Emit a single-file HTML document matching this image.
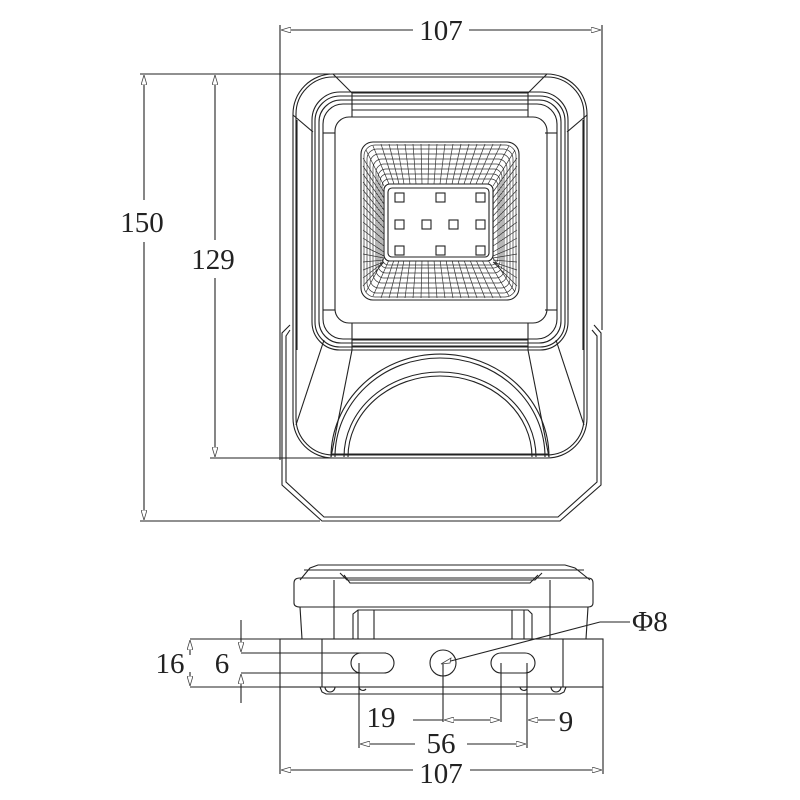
<!DOCTYPE html>
<html><head><meta charset="utf-8"><style>
html,body{margin:0;padding:0;background:#fff;}
svg{display:block;}
text{font-family:"Liberation Serif",serif;font-size:29px;fill:#222;}
</style></head><body>
<svg width="800" height="800" viewBox="0 0 800 800" xmlns="http://www.w3.org/2000/svg">
<defs>
<marker id="a" viewBox="0 0 10 6" refX="10" refY="3" markerWidth="10" markerHeight="6" orient="auto-start-reverse" markerUnits="userSpaceOnUse"><path d="M0,0 L10,3 L0,6 Z" fill="#fff" stroke="#444" stroke-width="0.8"/></marker>
</defs>
<g fill="none" stroke="#222" stroke-width="1.1">
<!-- top dims -->
<line x1="280" y1="25" x2="280" y2="460"/>
<line x1="602" y1="25" x2="602" y2="330"/>
<line x1="281" y1="30" x2="415" y2="30" marker-start="url(#a)"/>
<line x1="466" y1="30" x2="601" y2="30" marker-end="url(#a)"/>
<line x1="140" y1="74" x2="330" y2="74"/>
<line x1="140" y1="521" x2="320" y2="521"/>
<line x1="210" y1="458" x2="332" y2="458"/>
<line x1="144" y1="75" x2="144" y2="200" marker-start="url(#a)"/>
<line x1="144" y1="242" x2="144" y2="520" marker-end="url(#a)"/>
<line x1="215" y1="75" x2="215" y2="240" marker-start="url(#a)"/>
<line x1="215" y1="278" x2="215" y2="457" marker-end="url(#a)"/>

<!-- base lip -->
<path d="M290,325 L282,333 L282,485 L322,521 L560,521 L601,485 L601,333 L594,325"/>
<path d="M290,330 L286,336 L286,482 L324,517 L558,517 L597,482 L597,336 L592,330"/>
<!-- housing -->
<rect x="293" y="74" width="294" height="384" rx="40"/>
<rect x="296" y="77" width="288" height="378" rx="37"/>
<line x1="293" y1="115" x2="313" y2="132"/><line x1="587" y1="115" x2="567" y2="132"/>
<line x1="333" y1="74" x2="352" y2="93"/><line x1="547" y1="74" x2="528" y2="93"/>
<line x1="297" y1="120" x2="297" y2="350"/><line x1="583" y1="120" x2="583" y2="350"/>
<rect x="312" y="92" width="256" height="258" rx="28"/>
<rect x="315" y="96" width="250" height="251" rx="25"/>
<rect x="319" y="100" width="242" height="243" rx="22"/>
<rect x="323" y="104" width="234" height="235" rx="20"/>
<rect x="335" y="117" width="212" height="206" rx="14"/>
<line x1="352" y1="93" x2="528" y2="93"/><line x1="352" y1="93" x2="352" y2="117"/><line x1="528" y1="93" x2="528" y2="117"/>
<line x1="352" y1="110" x2="528" y2="110"/>
<line x1="352" y1="323" x2="352" y2="350"/><line x1="528" y1="323" x2="528" y2="350"/>
<line x1="352" y1="340" x2="528" y2="340"/><line x1="352" y1="346" x2="528" y2="346"/>
<line x1="312" y1="133" x2="312" y2="310"/><line x1="568" y1="133" x2="568" y2="310"/>
<line x1="335" y1="133" x2="323" y2="133"/><line x1="335" y1="310" x2="323" y2="310"/>
<line x1="545" y1="133" x2="557" y2="133"/><line x1="545" y1="310" x2="557" y2="310"/>
<!-- lower body lines -->
<line x1="324" y1="340" x2="296" y2="425"/><line x1="556" y1="340" x2="584" y2="425"/>
<line x1="352" y1="350" x2="331" y2="457"/><line x1="528" y1="350" x2="549" y2="457"/>
<path d="M331,457 A109,103 0 0 1 549,457"/>
<path d="M335,457 A105,99 0 0 1 545,457"/>
<path d="M344,457 A96,85 0 0 1 536,457"/>
<path d="M348,457 A92,81 0 0 1 532,457"/>
<line x1="331" y1="454" x2="549" y2="454"/>
<!-- LED -->
<rect x="361" y="142" width="158" height="158" rx="12"/>
<rect x="384" y="184" width="109" height="77" rx="6"/>
<rect x="388" y="188" width="101" height="69" rx="4"/>
</g>
<g stroke="#333" stroke-width="0.7" fill="none">
<path d="
M366,150 L384,186 M373,146 L389,184 M381,144 L394,184 M389,144 L399,184 M397,144 L404,184 M405,144 L410,184 M413,144 L416,184 M421,144 L422,184 M429,144 L428,184 M437,144 L434,184 M445,144 L440,184 M453,144 L446,184 M461,144 L452,184 M469,144 L458,184 M477,144 L464,184 M485,144 L470,184 M493,144 L476,184 M501,144 L482,184 M509,146 L488,184 M515,150 L493,186
M366,292 L384,258 M373,296 L389,260 M381,298 L394,260 M389,298 L399,260 M397,298 L404,260 M405,298 L410,260 M413,298 L416,260 M421,298 L422,260 M429,298 L428,260 M437,298 L434,260 M445,298 L440,260 M453,298 L446,260 M461,298 L452,260 M469,298 L458,260 M477,298 L464,260 M485,298 L470,260 M493,298 L476,260 M501,298 L482,260 M509,296 L488,260 M515,292 L493,258
M363,158 L384,192 M363,166 L384,198 M363,174 L384,204 M363,182 L384,210 M363,190 L384,216 M363,198 L384,222 M363,206 L384,228 M363,214 L384,234 M363,222 L384,240 M363,230 L384,246 M363,238 L384,252 M363,246 L384,256 M363,254 L384,258 M363,262 L384,260 M363,270 L384,262 M363,278 L384,262 M363,286 L384,262
M517,158 L493,192 M517,166 L493,198 M517,174 L493,204 M517,182 L493,210 M517,190 L493,216 M517,198 L493,222 M517,206 L493,228 M517,214 L493,234 M517,222 L493,240 M517,230 L493,246 M517,238 L493,252 M517,246 L493,256 M517,254 L493,258 M517,262 L493,260 M517,270 L493,262 M517,278 L493,262 M517,286 L493,262"/>
<rect x="364" y="145" width="152" height="152" rx="11"/>
<rect x="367" y="149" width="146" height="144" rx="10"/>
<rect x="370" y="154" width="140" height="134" rx="9"/>
<rect x="373" y="159" width="134" height="124" rx="9"/>
<rect x="376" y="164" width="128" height="114" rx="8"/>
<rect x="378" y="169" width="124" height="104" rx="8"/>
<rect x="380" y="174" width="120" height="94" rx="7"/>
<rect x="382" y="179" width="116" height="86" rx="7"/>
</g>
<g fill="#fff" stroke="#222" stroke-width="1.1">
<rect x="384" y="184" width="109" height="77" rx="6"/>
<rect x="388" y="188" width="101" height="69" rx="4"/>
<rect x="395" y="193" width="9" height="9"/><rect x="436" y="193" width="9" height="9"/><rect x="476" y="193" width="9" height="9"/>
<rect x="395" y="220" width="9" height="9"/><rect x="422" y="220" width="9" height="9"/><rect x="449" y="220" width="9" height="9"/><rect x="476" y="220" width="9" height="9"/>
<rect x="395" y="246" width="9" height="9"/><rect x="436" y="246" width="9" height="9"/><rect x="476" y="246" width="9" height="9"/>
</g>
<g fill="#fff">
<rect x="413" y="14" width="56" height="32"/>
<rect x="118" y="202" width="50" height="38"/>
<rect x="189" y="240" width="50" height="38"/>
</g>
<text x="441" y="40" text-anchor="middle">107</text>
<text x="142" y="232" text-anchor="middle">150</text>
<text x="213" y="269" text-anchor="middle">129</text>

<!-- bottom view -->
<g fill="none" stroke="#222" stroke-width="1.1">
<path d="M300,580 L310,568 L318,565 L565,565 L575,568 L590,580"/>
<line x1="304" y1="570" x2="584" y2="570"/>
<path d="M340,573 L347,580 L535,580 L542,573"/>
<path d="M344,575 L350,583 L530,583 L538,575"/>
<path d="M294,583 Q294,578 300,578 L588,578 Q593,578 593,583 L593,603 Q593,607 588,607 L300,607 Q294,607 294,603 Z"/>
<line x1="334" y1="580" x2="334" y2="639"/><line x1="550" y1="580" x2="550" y2="639"/>
<line x1="300" y1="607" x2="302" y2="639"/><line x1="588" y1="607" x2="586" y2="639"/>
<path d="M353,639 L353,614 L358,610 L528,610 L532,614 L532,639"/>
<line x1="358" y1="610" x2="358" y2="639"/><line x1="374" y1="610" x2="374" y2="639"/>
<line x1="512" y1="610" x2="512" y2="639"/><line x1="524" y1="610" x2="524" y2="639"/>
<rect x="280" y="639" width="323" height="48"/>
<line x1="322" y1="639" x2="322" y2="687"/><line x1="563" y1="639" x2="563" y2="687"/>
<path d="M320,687 L322,692 L326,694 L560,694 L564,692 L566,687"/>
<path d="M325,687 A5,5 0 0 0 335,687"/><path d="M551,687 A5,5 0 0 0 561,687"/>
<path d="M359,687 A4,4 0 0 0 366,689"/><path d="M520,687 A4,4 0 0 0 527,689"/>
<rect x="351" y="653" width="43" height="20" rx="10"/>
<rect x="491" y="653" width="44" height="20" rx="10"/>
<circle cx="443" cy="663" r="13"/>
<!-- dims -->
<line x1="190" y1="639" x2="280" y2="639"/><line x1="190" y1="687" x2="280" y2="687"/>
<line x1="190" y1="640" x2="190" y2="655" marker-start="url(#a)"/>
<line x1="190" y1="686" x2="190" y2="672" marker-start="url(#a)"/>
<line x1="241" y1="653" x2="386" y2="653"/><line x1="241" y1="673" x2="386" y2="673"/>
<line x1="241" y1="620" x2="241" y2="652" marker-end="url(#a)"/>
<line x1="241" y1="703" x2="241" y2="674" marker-end="url(#a)"/>
<line x1="359" y1="663" x2="359" y2="748"/><line x1="527" y1="663" x2="527" y2="748"/>
<line x1="443" y1="663" x2="443" y2="722"/><line x1="501" y1="663" x2="501" y2="722"/>
<line x1="413" y1="720" x2="443" y2="720"/>
<line x1="444" y1="720" x2="500" y2="720" marker-start="url(#a)" marker-end="url(#a)"/>
<line x1="555" y1="720" x2="528" y2="720" marker-end="url(#a)"/>
<line x1="360" y1="744" x2="415" y2="744" marker-start="url(#a)"/>
<line x1="467" y1="744" x2="526" y2="744" marker-end="url(#a)"/>
<line x1="280" y1="687" x2="280" y2="774"/><line x1="603" y1="687" x2="603" y2="774"/>
<line x1="281" y1="770" x2="413" y2="770" marker-start="url(#a)"/>
<line x1="470" y1="770" x2="602" y2="770" marker-end="url(#a)"/>
<line x1="443" y1="663" x2="600" y2="622"/><line x1="600" y1="622" x2="630" y2="622"/>
</g>
<path d="M441,664 L451,658 L450,663 Z" fill="#fff" stroke="#444" stroke-width="0.8"/>
<text x="170" y="673" text-anchor="middle">16</text>
<text x="222" y="673" text-anchor="middle">6</text>
<text x="381" y="727" text-anchor="middle">19</text>
<text x="566" y="731" text-anchor="middle">9</text>
<text x="441" y="753" text-anchor="middle">56</text>
<text x="441" y="783" text-anchor="middle">107</text>
<text x="632" y="631">Φ8</text>
</svg>
</body></html>
